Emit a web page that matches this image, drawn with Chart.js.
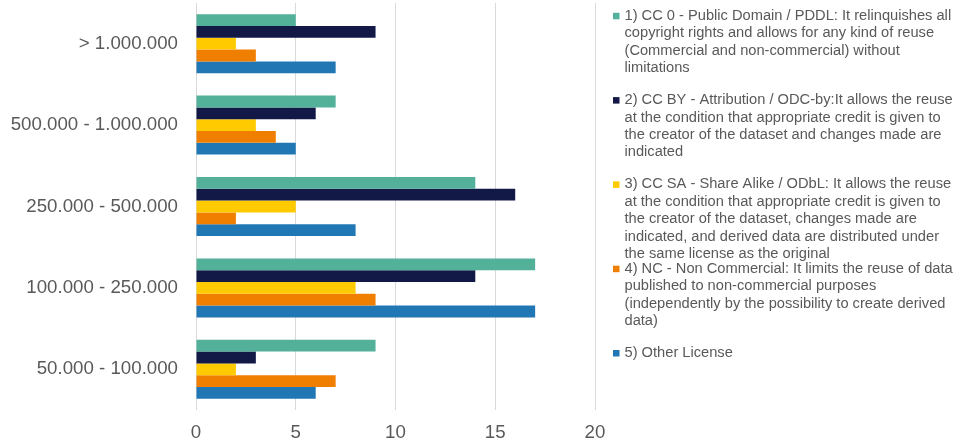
<!DOCTYPE html>
<html>
<head>
<meta charset="utf-8">
<script src="https://cdn.jsdelivr.net/npm/chart.js@4/dist/chart.umd.min.js"></script>
<style>
  html, body { margin: 0; padding: 0; background: #fff; }
  #wrap { width: 957px; height: 448px; position: relative; }
</style>
</head>
<body>
<div id="wrap"><canvas id="licenseChart"></canvas></div>
<script>
// categorie (dall'alto in basso)
const categories = ['> 1.000.000', '500.000 - 1.000.000', '250.000 - 500.000', '100.000 - 250.000', '50.000 - 100.000'];

// valori per licenza
const cc0Values   = [5, 7, 14, 17, 9];
const ccByValues  = [9, 6, 16, 14, 3];
const ccSaValues  = [2, 3, 5, 8, 2];
const ncValues    = [3, 4, 2, 9, 7];
const otherValues = [7, 5, 8, 17, 6];

const xTicks = [0, 5, 10, 15, 20];

// testo della legenda, già spezzato in righe
const cc0Label = ['1) CC 0 - Public Domain / PDDL: It relinquishes all', 'copyright rights and allows for any kind of reuse', '(Commercial and non-commercial) without', 'limitations'];
const ccByLabel = ['2) CC BY - Attribution / ODC-by:It allows the reuse', 'at the condition that appropriate credit is given to', 'the creator of the dataset and changes made are', 'indicated'];
const ccSaLabel = ['3) CC SA - Share Alike / ODbL: It allows the reuse', 'at the condition that appropriate credit is given to', 'the creator of the dataset, changes made are', 'indicated, and derived data are distributed under', 'the same license as the original'];
const ncLabel = ['4) NC - Non Commercial: It limits the reuse of data', 'published to non-commercial purposes', '(independently by the possibility to create derived', 'data)'];
const otherLabel = ['5) Other License'];

const textColor = '#595959';
const gridColor = '#d9d9d9';

// legenda disegnata a mano (testo su più righe)
const sideLegend = {
    id: 'sideLegend',
    afterDraw(chart) {
        const c = chart.ctx;
        const x0 = 613, textX = 624.5;
        const lineH = 17.4, pitch = 84.3;
        c.save();
        c.font = '14.67px "Liberation Sans", Arial, sans-serif';
        c.textBaseline = 'middle';
        c.textAlign = 'left';
        chart.data.datasets.forEach((ds, i) => {
            const y = 15.8 + i * pitch;
            c.fillStyle = ds.backgroundColor;
            c.fillRect(x0, y - 3, 6.5, 6.5);
            c.fillStyle = textColor;
            ds.label.forEach((line, j) => c.fillText(line, textX, y + j * lineH));
        });
        c.restore();
    }
};

const ctx = document.getElementById('licenseChart').getContext('2d');

const chart = new Chart(ctx, {
    type: 'bar',
    data: {
        labels: categories,
        datasets: [
            { label: cc0Label,   data: cc0Values,   backgroundColor: '#53b099' },
            { label: ccByLabel,  data: ccByValues,  backgroundColor: '#121947' },
            { label: ccSaLabel,  data: ccSaValues,  backgroundColor: '#ffca00' },
            { label: ncLabel,    data: ncValues,    backgroundColor: '#f07f00' },
            { label: otherLabel, data: otherValues, backgroundColor: '#2177b4' }
        ]
    },
    options: {
        indexAxis: 'y',
        responsive: true,
        maintainAspectRatio: false,
        animation: false,
        layout: { padding: { top: 3, right: 362, left: 0, bottom: 0 } },
        datasets: {
            bar: {
                barPercentage: 1,
                categoryPercentage: 0.725,
                borderWidth: 0
            }
        },
        scales: {
            x: {
                min: 0,
                max: 20,
                afterBuildTicks: (axis) => { axis.ticks = xTicks.map(v => ({ value: v })); },
                afterFit: (axis) => { axis.height = 38; },
                grid: { color: gridColor, lineWidth: 1, drawTicks: false },
                border: { display: false },
                ticks: {
                    color: textColor,
                    padding: 12,
                    font: { family: '"Liberation Sans", Arial, sans-serif', size: 18.7 }
                }
            },
            y: {
                afterFit: (axis) => {
                    axis.width = 196;
                    // niente margine extra sopra/sotto dovuto al padding delle etichette
                    axis.paddingTop = 0;
                    axis.paddingBottom = 0;
                },
                grid: { display: false, drawTicks: false },
                border: { display: false },
                ticks: {
                    color: textColor,
                    padding: 18,
                    font: { family: '"Liberation Sans", Arial, sans-serif', size: 18.7 }
                }
            }
        },
        plugins: {
            legend: { display: false },
            tooltip: { enabled: false }
        }
    },
    plugins: [sideLegend]
});
</script>
</body>
</html>
